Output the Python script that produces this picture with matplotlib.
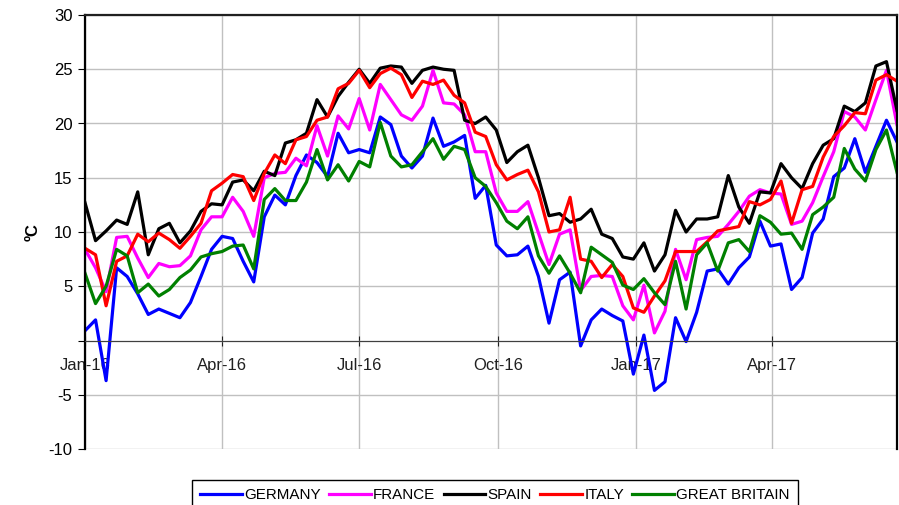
import numpy as np
import pandas as pd
import matplotlib
matplotlib.use("Agg")
import matplotlib.pyplot as plt
import matplotlib.dates as mdates

plt.rcParams['font.family'] = ['Liberation Sans', 'DejaVu Sans']
plt.rcParams['axes.unicode_minus'] = False

# weekly mean temperatures, Jan-16 .. Jun-17
dates = pd.date_range('2016-01-01', periods=78, freq='7D')

germany = [0.9, 1.9, -3.7, 6.7, 5.9, 4.3, 2.4, 2.9, 2.5, 2.1, 3.5, 5.9, 8.4, 9.6, 9.4, 7.3,
           5.4, 11.4, 13.4, 12.5, 15.2, 17.1, 16.4, 15.1, 19.1, 17.3, 17.6, 17.3, 20.6, 19.9,
           17.0, 15.9, 17.0, 20.5, 17.9, 18.3, 18.9, 13.1, 14.3, 8.8, 7.8, 7.9, 8.7, 5.9,
           1.6, 5.6, 6.3, -0.5, 1.9, 2.9, 2.3, 1.8, -3.1, 0.5, -4.6, -3.8, 2.1, -0.1, 2.6,
           6.4, 6.6, 5.2, 6.7, 7.7, 11.0, 8.7, 8.9, 4.7, 5.8, 9.9, 11.2, 15.1, 15.9, 18.6,
           15.5, 17.9, 20.3, 18.3]
france = [8.4, 6.7, 4.5, 9.5, 9.6, 7.6, 5.8, 7.1, 6.8, 6.9, 7.8, 10.2, 11.4, 11.4, 13.2, 11.9,
          9.6, 15.0, 15.4, 15.5, 16.8, 16.1, 19.8, 17.0, 20.7, 19.5, 22.3, 19.4, 23.6, 22.2,
          20.8, 20.3, 21.6, 24.9, 21.9, 21.8, 20.8, 17.4, 17.4, 13.6, 11.9, 11.9, 12.8, 9.9,
          7.0, 9.8, 10.2, 4.6, 5.9, 6.0, 5.9, 3.2, 1.9, 5.1, 0.7, 2.7, 8.4, 5.6, 9.3, 9.5,
          9.6, 10.7, 11.9, 13.3, 13.9, 13.6, 13.5, 10.7, 11.0, 12.7, 15.1, 17.4, 21.1, 20.6,
          19.4, 22.2, 24.9, 19.9]
spain = [12.7, 9.2, 10.1, 11.1, 10.7, 13.7, 7.9, 10.3, 10.8, 9.0, 10.1, 11.9, 12.6, 12.5,
         14.6, 14.8, 13.8, 15.6, 15.2, 18.2, 18.5, 19.1, 22.2, 20.6, 22.5, 23.8, 25.0, 23.7,
         25.1, 25.3, 25.2, 23.7, 24.9, 25.2, 25.0, 24.9, 20.3, 20.0, 20.6, 19.4, 16.4, 17.4,
         18.0, 15.0, 11.5, 11.7, 10.9, 11.2, 12.1, 9.8, 9.4, 7.7, 7.5, 9.0, 6.4, 7.9, 12.0,
         10.0, 11.2, 11.2, 11.4, 15.2, 12.3, 10.8, 13.7, 13.6, 16.3, 15.0, 14.0, 16.3, 18.0,
         18.6, 21.6, 21.1, 21.9, 25.3, 25.7, 21.2]
italy = [8.5, 7.9, 3.2, 7.3, 7.8, 9.8, 9.1, 9.9, 9.3, 8.5, 9.6, 10.8, 13.8, 14.5, 15.3, 15.1,
         12.9, 15.4, 17.1, 16.3, 18.5, 18.8, 20.3, 20.6, 23.2, 23.7, 24.9, 23.3, 24.6, 25.1,
         24.5, 22.4, 23.9, 23.6, 24.0, 22.6, 21.9, 19.2, 18.8, 16.2, 14.8, 15.3, 15.7, 13.7,
         10.0, 10.2, 13.2, 7.5, 7.3, 5.8, 7.0, 5.9, 3.0, 2.6, 4.1, 5.5, 8.2, 8.2, 8.2, 9.1,
         10.1, 10.3, 10.5, 12.8, 12.5, 13.0, 14.7, 10.8, 13.9, 14.2, 16.9, 18.8, 19.8, 21.0,
         20.9, 24.0, 24.5, 23.9]
britain = [6.2, 3.4, 5.0, 8.4, 7.8, 4.4, 5.2, 4.1, 4.7, 5.8, 6.5, 7.7, 8.0, 8.2, 8.7, 8.8,
           6.6, 13.0, 14.0, 12.9, 12.9, 14.6, 17.6, 14.8, 16.2, 14.7, 16.5, 16.0, 20.1, 17.0,
           16.0, 16.2, 17.4, 18.6, 16.7, 17.9, 17.6, 15.0, 14.2, 12.7, 11.0, 10.3, 11.4, 7.8,
           6.2, 7.8, 6.2, 4.4, 8.6, 7.9, 7.2, 5.1, 4.7, 5.7, 4.4, 3.3, 7.3, 2.9, 7.9, 9.0,
           6.4, 9.0, 9.3, 8.2, 11.5, 10.9, 9.8, 9.9, 8.4, 11.6, 12.3, 13.2, 17.7, 15.8, 14.7,
           17.6, 19.4, 15.5]

names = ['GERMANY', 'FRANCE', 'SPAIN', 'ITALY', 'GREAT BRITAIN']
colors = ['#0000ff', '#ff00ff', '#000000', '#ff0000', '#008000']
series = [germany, france, spain, italy, britain]
yticks = [-10, -5, 0, 5, 10, 15, 20, 25, 30]

fig = plt.figure(figsize=(8.99, 5.05), dpi=100)
ax = fig.add_axes([85/899, 1-449/505, (897-85)/899, (449-15)/505])

for vals, name, c in zip(series, names, colors):
    ax.plot(dates, vals, color=c, lw=2.3, label=name)

ax.set_xlim(dates[0], dates[-1])
ax.set_ylim(-10, 30)
ax.set_yticks(yticks)
# the zero label is left out, the date labels sit there
ax.set_yticklabels(['' if t == 0 else str(t) for t in yticks])
ax.xaxis.set_major_locator(mdates.MonthLocator(bymonth=[1, 4, 7, 10]))
ax.xaxis.set_major_formatter(mdates.DateFormatter('%b-%y'))

ax.grid(True, color='#c0c0c0', lw=1)
ax.set_axisbelow(True)

ax.spines['bottom'].set_position(('data', 0))
ax.spines['bottom'].set_color('#404040')
ax.spines['left'].set_linewidth(1.6)
ax.spines['right'].set_linewidth(1.6)
ax.spines['top'].set_linewidth(1.6)
ax.spines['top'].set_color('#202020')

ax.tick_params(axis='x', direction='inout', length=7, pad=9, labelsize=12, colors='#202020')
ax.tick_params(axis='y', direction='out', length=5, pad=4, labelsize=12)

ax.set_ylabel('ºC', fontsize=12, fontweight='bold', labelpad=6)

fig.legend(loc='upper center', bbox_to_anchor=(495/899, 1-480/505), ncol=5,
           fontsize=10.9, handlelength=2.75, handletextpad=0.15, columnspacing=0.55,
           fancybox=False, framealpha=1, edgecolor='black', borderpad=0.55,
           borderaxespad=0)

fig.savefig('out.png', dpi=100)
